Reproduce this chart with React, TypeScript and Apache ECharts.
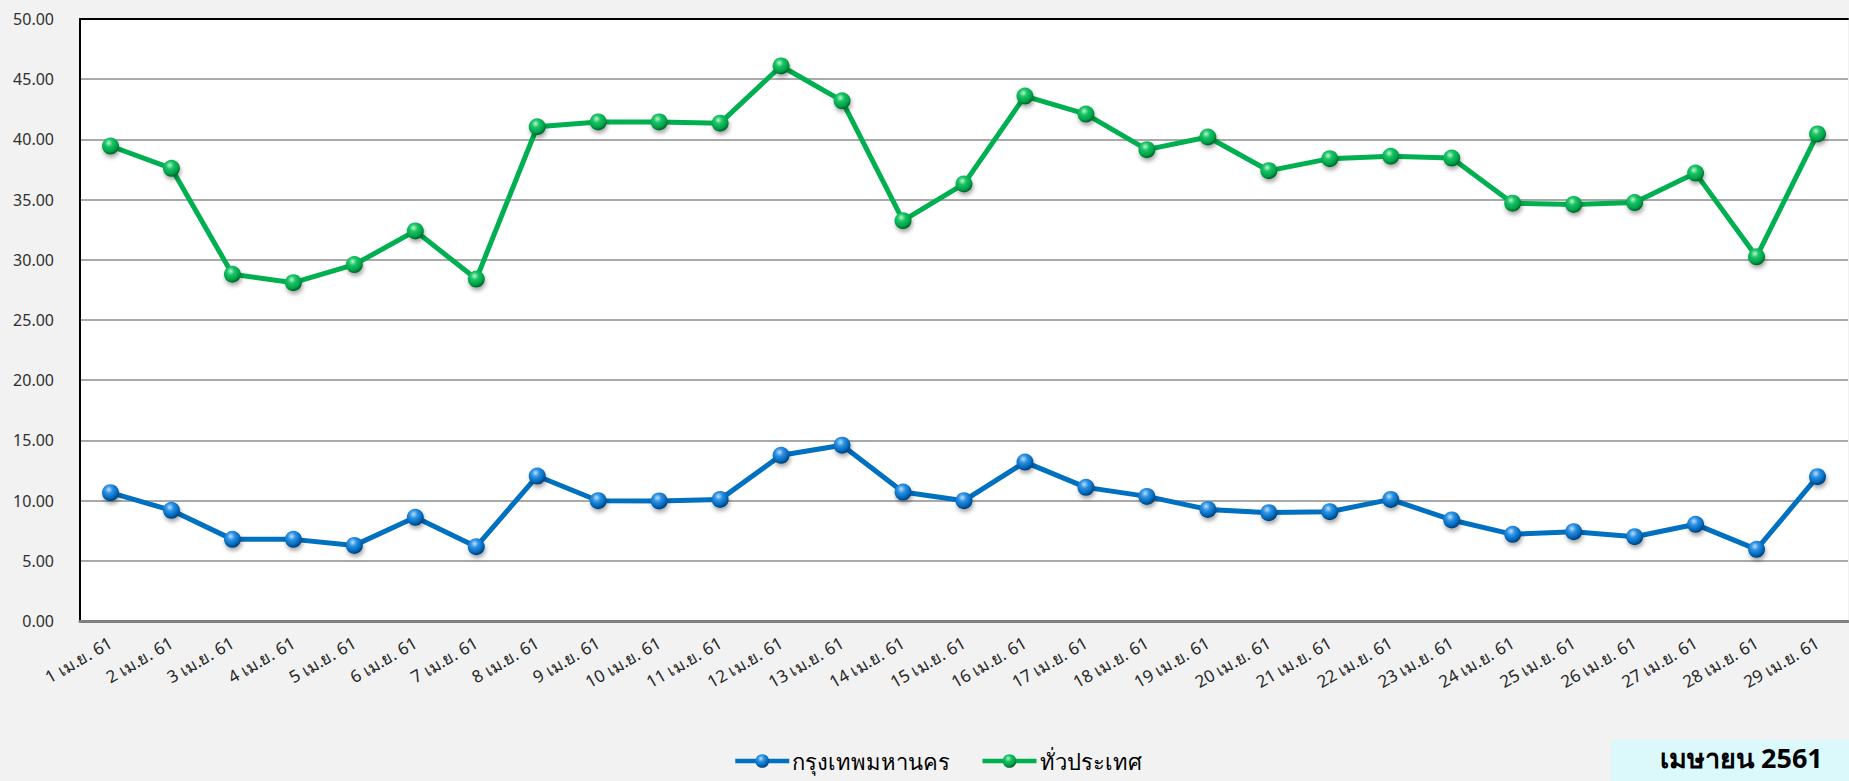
import React, { useEffect, useRef } from "react";
import * as echarts from "echarts";

const categories = [
  "1 เม.ย. 61", "2 เม.ย. 61", "3 เม.ย. 61", "4 เม.ย. 61", "5 เม.ย. 61",
  "6 เม.ย. 61", "7 เม.ย. 61", "8 เม.ย. 61", "9 เม.ย. 61", "10 เม.ย. 61",
  "11 เม.ย. 61", "12 เม.ย. 61", "13 เม.ย. 61", "14 เม.ย. 61", "15 เม.ย. 61",
  "16 เม.ย. 61", "17 เม.ย. 61", "18 เม.ย. 61", "19 เม.ย. 61", "20 เม.ย. 61",
  "21 เม.ย. 61", "22 เม.ย. 61", "23 เม.ย. 61", "24 เม.ย. 61", "25 เม.ย. 61",
  "26 เม.ย. 61", "27 เม.ย. 61", "28 เม.ย. 61", "29 เม.ย. 61",
];

const bangkok = [
  10.66, 9.19, 6.78, 6.78, 6.28, 8.61, 6.17, 12.04, 9.99, 9.97,
  10.1, 13.76, 14.6, 10.71, 9.99, 13.2, 11.1, 10.35, 9.27, 9.0,
  9.08, 10.1, 8.39, 7.2, 7.42, 7.0, 8.03, 5.95, 11.99,
];

const nationwide = [
  39.45, 37.6, 28.8, 28.1, 29.6, 32.4, 28.4, 41.05, 41.45, 41.45,
  41.35, 46.1, 43.2, 33.25, 36.3, 43.6, 42.1, 39.15, 40.2, 37.4,
  38.4, 38.6, 38.45, 34.7, 34.6, 34.75, 37.2, 30.25, 40.45,
];

const seriesNames = ["กรุงเทพมหานคร", "ทั่วประเทศ"];
const periodLabel = "เมษายน 2561";

const FONT = "'Noto Sans', Tahoma, sans-serif";

function sphere(stops: string[]) {
  return new echarts.graphic.RadialGradient(0.4, 0.32, 0.65, [
    { offset: 0, color: stops[0] },
    { offset: 0.35, color: stops[1] },
    { offset: 0.8, color: stops[2] },
    { offset: 1, color: stops[3] },
  ]);
}

export default function App() {
  const ref = useRef<HTMLDivElement>(null);
  useEffect(() => {
    document.body.style.margin = "0";
    const chart = echarts.init(ref.current!, null, { renderer: "svg" });
    const blue = "#0070c0";
    const green = "#00b050";
    const mkSeries = (name: string, data: number[], color: string, stops: string[]) => ({
      name,
      type: "line",
      data,
      symbol: "circle",
      symbolSize: 17,
      lineStyle: { color, width: 5 },
      itemStyle: {
        color: sphere(stops),
        borderWidth: 0,
        shadowColor: "rgba(0,0,0,0.35)",
        shadowBlur: 4,
        shadowOffsetY: 3,
        shadowOffsetX: 1,
      },
      emphasis: { disabled: true },
    });
    chart.setOption({
      animation: false,
      backgroundColor: "#f2f2f2",
      textStyle: { fontFamily: FONT },
      grid: {
        left: 80,
        right: 1,
        top: 19,
        bottom: 160,
        show: true,
        backgroundColor: "#ffffff",
        borderWidth: 0,
      },
      legend: {
        left: 728,
        top: 745,
        itemWidth: 54,
        itemHeight: 17,
        itemGap: 30,
        data: seriesNames,
        lineStyle: { width: 4.5 },
        textStyle: { fontSize: 22, color: "#000000", fontFamily: FONT, padding: [0, 0, 0, -2] },
      },
      xAxis: [
        {
          type: "category",
          data: categories,
          position: "bottom",
          boundaryGap: true,
          axisLine: { show: true, lineStyle: { color: "#808080", width: 3 } },
          axisTick: { show: false },
          axisLabel: {
            interval: 0,
            rotate: 30,
            margin: 20,
            fontSize: 17,
            color: "#262626",
            fontFamily: FONT,
          },
          splitLine: { show: false },
        },
        {
          type: "category",
          data: categories,
          position: "top",
          axisLine: { show: true, lineStyle: { color: "#000000", width: 2 } },
          axisTick: { show: false },
          axisLabel: { show: false },
          splitLine: { show: false },
        },
      ],
      yAxis: {
        type: "value",
        min: 0,
        max: 50,
        interval: 5,
        axisLine: { show: true, lineStyle: { color: "#000000", width: 2 } },
        axisTick: { show: false },
        axisLabel: {
          formatter: (v: number) => v.toFixed(2),
          fontSize: 16,
          color: "#303030",
          margin: 26,
          fontFamily: FONT,
        },
        splitLine: { show: true, lineStyle: { color: "#8c8c8c", width: 1.5 } },
      },
      graphic: [
        {
          type: "rect",
          left: 1611,
          top: 740,
          shape: { width: 238, height: 41 },
          style: { fill: "#dbf8fb" },
          silent: true,
        },
        {
          type: "text",
          left: 1660,
          top: 744,
          style: {
            text: periodLabel,
            font: `bold 27px ${FONT}`,
            fill: "#000000",
          },
          silent: true,
        },
      ],
      series: [
        mkSeries(seriesNames[0], bangkok, blue, ["#b8e0ff", "#2f92e4", "#0066b8", "#00437e"]),
        mkSeries(seriesNames[1], nationwide, green, ["#b8f5cc", "#19c466", "#00a046", "#00692c"]),
      ],
    });
    return () => chart.dispose();
  }, []);
  return (
    <div
      ref={ref}
      style={{ position: "fixed", left: 0, top: 0, width: 1849, height: 781 }}
    />
  );
}
